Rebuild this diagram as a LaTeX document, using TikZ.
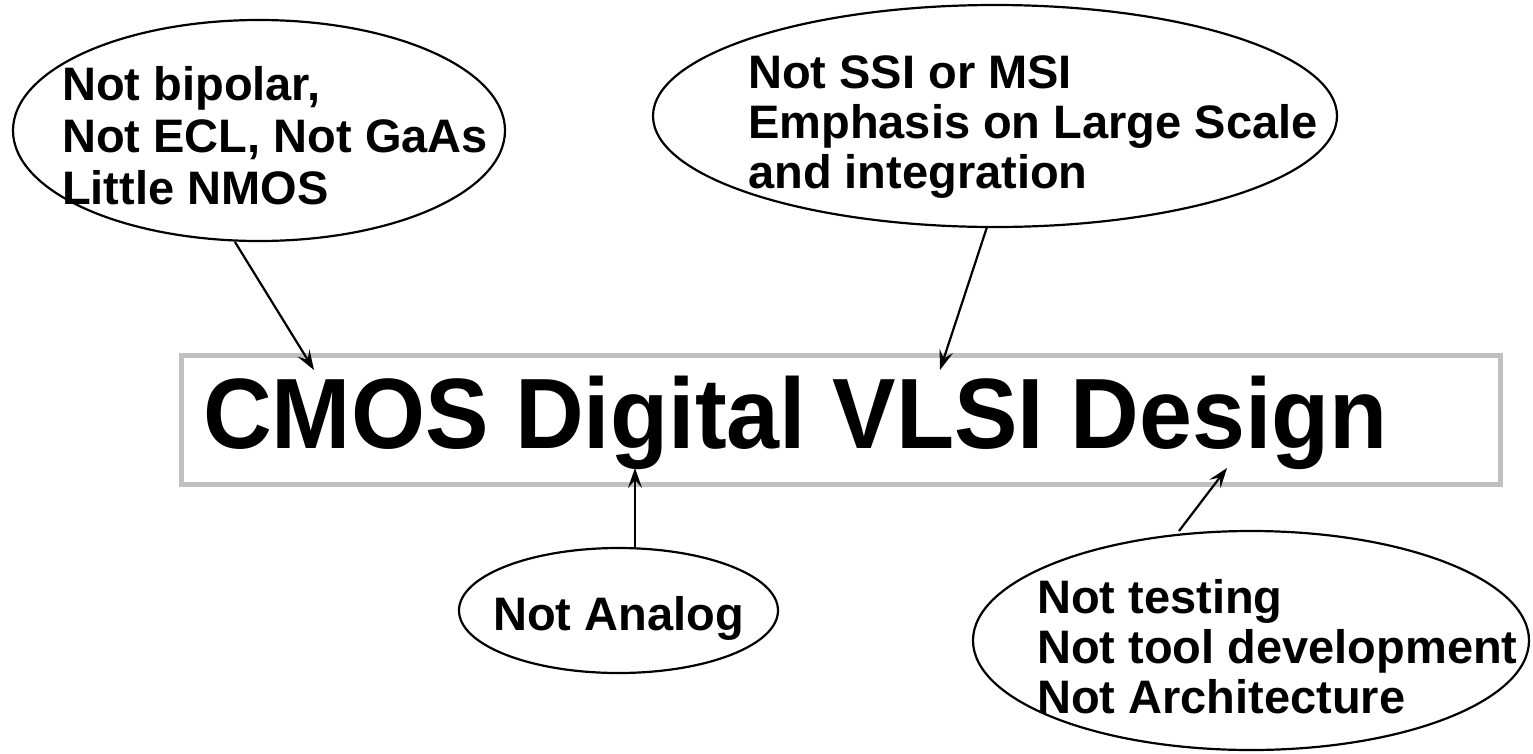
\documentclass[tikz,border=0pt]{standalone}
\usepackage{graphicx}
\usepackage{fontspec}
\setmainfont{Liberation Sans}
\usetikzlibrary{shapes.geometric,arrows.meta}
\definecolor{boxgray}{HTML}{C0C0C0}
\begin{document}
\begin{tikzpicture}[x=1pt,y=-1pt,
  bubble/.style={ellipse, draw=black, line width=2.2pt, inner sep=0pt},
  lbl/.style={anchor=base west, inner sep=0pt, font=\bfseries\fontsize{47}{50}\selectfont},
  conn/.style={line width=2.2pt, -{Stealth[length=20pt,width=14pt,inset=8pt]}},
  ]
\path[use as bounding box, fill=white] (0,0) rectangle (1533,753);
% ellipses
\node[bubble, minimum width=492pt, minimum height=221pt] (e1) at (259,130.5) {};
\node[bubble, minimum width=684pt, minimum height=222pt] (e2) at (995,116) {};
\node[bubble, minimum width=319pt, minimum height=125pt] (e3) at (618.5,610.5) {};
\node[bubble, minimum width=556pt, minimum height=219pt] (e4) at (1251,640.5) {};
% title box
\node[draw=boxgray, line width=5pt, minimum width=1318.5pt, minimum height=129pt, inner sep=0pt] (box) at (840.75,419.5) {};
\node[anchor=base west, inner sep=0pt, font=\bfseries\fontsize{100}{100}\selectfont] (title) at (203,448) {\scalebox{0.952}[1]{CMOS Digital VLSI Design}};
% texts
\node[lbl] (t1) at (62,100) {\vtop{\baselineskip=52pt \hbox{Not bipolar,}\hbox{Not ECL, Not GaAs}\hbox{Little NMOS}}};
\node[lbl] (t2) at (748,88) {\vtop{\baselineskip=50pt \hbox{Not SSI or MSI}\hbox{Emphasis on Large Scale}\hbox{and integration}}};
\node[lbl] (t3) at (493,630) {Not Analog};
\node[lbl] (t4) at (1037,613) {\vtop{\baselineskip=50pt \hbox{Not testing}\hbox{Not tool development}\hbox{Not Architecture}}};
% connectors
\coordinate (a1s) at (235,242); \coordinate (a1e) at (314,370);
\coordinate (a2s) at (987,227); \coordinate (a2e) at (940,370);
\coordinate (a3s) at (635,548); \coordinate (a3e) at (635,468);
\coordinate (a4s) at (1179,531); \coordinate (a4e) at (1227,468);
\draw[conn] (a1s) -- (a1e);
\draw[conn] (a2s) -- (a2e);
\draw[conn] (a3s) -- (a3e);
\draw[conn] (a4s) -- (a4e);
\end{tikzpicture}
\end{document}
